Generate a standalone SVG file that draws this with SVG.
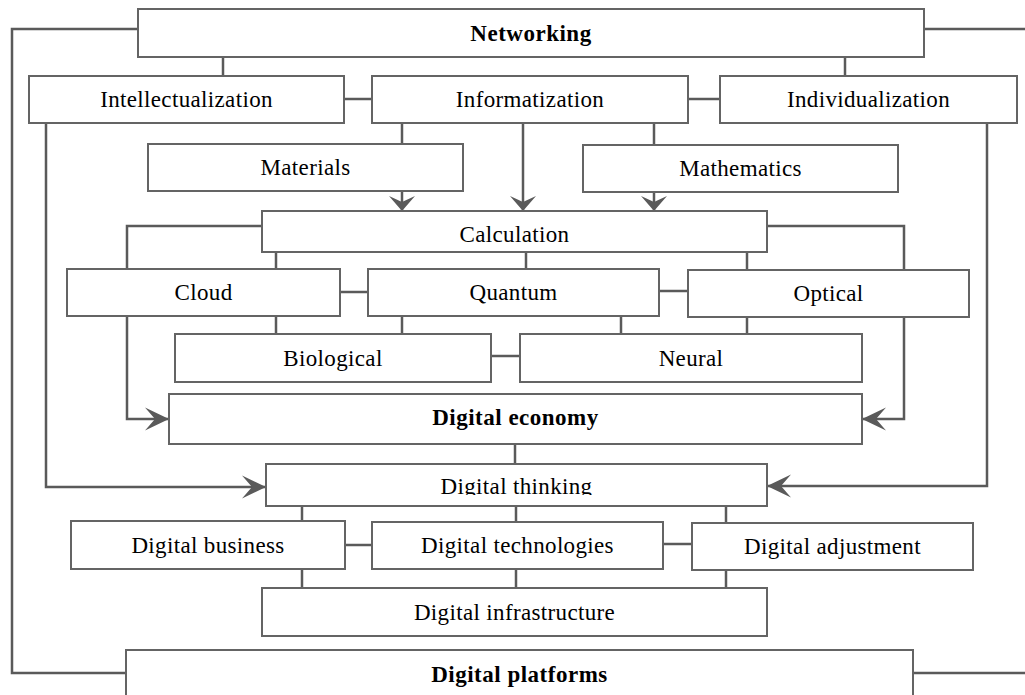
<svg xmlns="http://www.w3.org/2000/svg" width="1025" height="695" viewBox="0 0 1025 695">
<style>
.box{fill:#fff;stroke:#646464;stroke-width:2}
.lbl{font-family:"Liberation Serif","Times New Roman",serif;font-size:23px;letter-spacing:0.35px;fill:#000;text-anchor:middle}
.b{font-weight:bold;letter-spacing:0.5px}
.c{fill:none;stroke:#5a5a5a;stroke-width:2.5}
.av{marker-end:url(#arrV)}
.ah{marker-end:url(#arrH)}
</style>
<defs>
<marker id="arrV" markerUnits="userSpaceOnUse" viewBox="0 -13 15 26" markerWidth="15" markerHeight="26" refX="15" refY="0" orient="auto">
<path d="M0,-13 L15,0 L0,13 L6,0 Z" fill="#5a5a5a"/>
</marker>
<marker id="arrH" markerUnits="userSpaceOnUse" viewBox="0 -12 24 24" markerWidth="24" markerHeight="24" refX="24" refY="0" orient="auto">
<path d="M0,-11.5 L24,0 L0,11.5 L10,0 Z" fill="#5a5a5a"/>
</marker>
<clipPath id="thinkClip"><rect x="266" y="464" width="501" height="31"/></clipPath>
</defs>
<rect width="1025" height="695" fill="#fff"/>
<g id="connectors">
<path class="c" d="M138,29 H12 V673 H126"/>
<path class="c" d="M924,29 H1025"/>
<path class="c" d="M913,673 H1025"/>
<path class="c" d="M223,57 V76"/>
<path class="c" d="M845,57 V76"/>
<path class="c" d="M344,99 H372"/>
<path class="c" d="M688,99 H720"/>
<path class="c" d="M402,123 V144"/>
<path class="c" d="M654,123 V145"/>
<path class="c av" d="M523,123 V211"/>
<path class="c av" d="M402,191 V211"/>
<path class="c av" d="M654,192 V211"/>
<path class="c" d="M262,226 H127 V269"/>
<path class="c" d="M276,252 V269"/>
<path class="c" d="M526,252 V269"/>
<path class="c" d="M747,252 V270"/>
<path class="c" d="M767,226 H904 V270"/>
<path class="c" d="M340,292 H368"/>
<path class="c" d="M659,291 H688"/>
<path class="c" d="M276,316 V334"/>
<path class="c" d="M402,316 V334"/>
<path class="c" d="M621,316 V334"/>
<path class="c" d="M747,317 V334"/>
<path class="c" d="M491,356 H520"/>
<path class="c ah" d="M127,316 V419 H169"/>
<path class="c ah" d="M904,317 V419 H862"/>
<path class="c" d="M515,444 V464"/>
<path class="c ah" d="M46,123 V487 H266"/>
<path class="c ah" d="M987,123 V486 H767"/>
<path class="c" d="M302,506 V521"/>
<path class="c" d="M516,506 V522"/>
<path class="c" d="M726,506 V523"/>
<path class="c" d="M345,545 H372"/>
<path class="c" d="M663,544 H692"/>
<path class="c" d="M302,569 V588"/>
<path class="c" d="M516,569 V588"/>
<path class="c" d="M726,570 V588"/>
</g>
<g id="networking"><rect class="box" x="138" y="9" width="786" height="48"/><text class="lbl b" x="531" y="41">Networking</text></g>
<g id="intellectualization"><rect class="box" x="29" y="76" width="315" height="47"/><text class="lbl" x="186.5" y="107">Intellectualization</text></g>
<g id="informatization"><rect class="box" x="372" y="76" width="316" height="47"/><text class="lbl" x="530" y="107">Informatization</text></g>
<g id="individualization"><rect class="box" x="720" y="76" width="297" height="47"/><text class="lbl" x="868.5" y="107">Individualization</text></g>
<g id="materials"><rect class="box" x="148" y="144" width="315" height="47"/><text class="lbl" x="305.5" y="175">Materials</text></g>
<g id="mathematics"><rect class="box" x="583" y="145" width="315" height="47"/><text class="lbl" x="740.5" y="176">Mathematics</text></g>
<g id="calculation"><rect class="box" x="262" y="211" width="505" height="41"/><text class="lbl" x="514.5" y="241.5">Calculation</text></g>
<g id="cloud"><rect class="box" x="67" y="269" width="273" height="47"/><text class="lbl" x="203.5" y="300">Cloud</text></g>
<g id="quantum"><rect class="box" x="368" y="269" width="291" height="47"/><text class="lbl" x="513.5" y="300">Quantum</text></g>
<g id="optical"><rect class="box" x="688" y="270" width="281" height="47"/><text class="lbl" x="828.5" y="301">Optical</text></g>
<g id="biological"><rect class="box" x="175" y="334" width="316" height="48"/><text class="lbl" x="333" y="366">Biological</text></g>
<g id="neural"><rect class="box" x="520" y="334" width="342" height="48"/><text class="lbl" x="691" y="366">Neural</text></g>
<g id="digital-economy"><rect class="box" x="169" y="394" width="693" height="50"/><text class="lbl b" x="515.5" y="425">Digital economy</text></g>
<g id="digital-thinking"><rect class="box" x="266" y="464" width="501" height="42"/><text class="lbl" x="516.5" y="494" clip-path="url(#thinkClip)">Digital thinking</text></g>
<g id="digital-business"><rect class="box" x="71" y="521" width="274" height="48"/><text class="lbl" x="208" y="553">Digital business</text></g>
<g id="digital-technologies"><rect class="box" x="372" y="522" width="291" height="47"/><text class="lbl" x="517.5" y="553">Digital technologies</text></g>
<g id="digital-adjustment"><rect class="box" x="692" y="523" width="281" height="47"/><text class="lbl" x="832.5" y="554">Digital adjustment</text></g>
<g id="digital-infrastructure"><rect class="box" x="262" y="588" width="505" height="48"/><text class="lbl" x="514.5" y="620">Digital infrastructure</text></g>
<g id="digital-platforms"><rect class="box" x="126" y="650" width="787" height="60"/><text class="lbl b" x="519.5" y="682">Digital platforms</text></g>
</svg>
